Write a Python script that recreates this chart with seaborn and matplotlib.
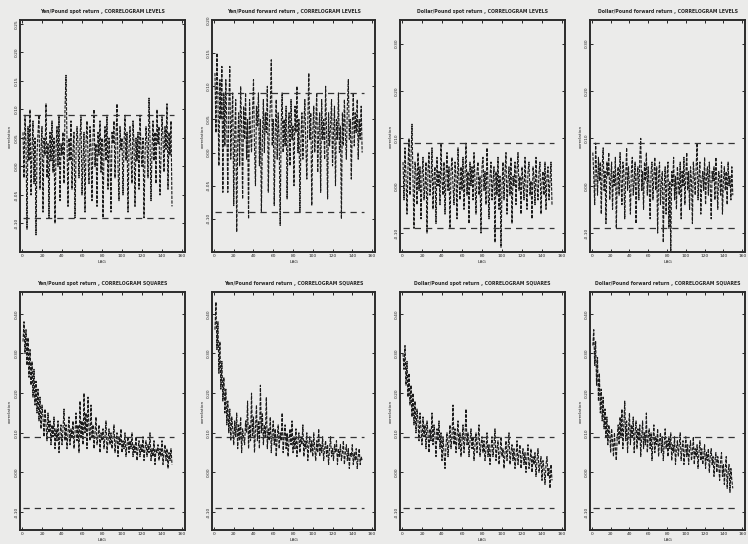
import numpy as np
import pandas as pd
import seaborn as sns
import matplotlib
matplotlib.use("Agg")
import matplotlib.pyplot as plt

# lags 1..150
lags = list(range(1, 151))

yen_spot_levels = [
    0.06, -0.02, 0.09, 0.04, -0.11, 0.07, 0.01, 0.10, -0.05, 0.03,
    0.08, -0.03, 0.05, -0.12, 0.02, 0.06, 0.09, -0.04, 0.03, 0.07,
    -0.08, 0.05, 0.02, 0.11, -0.02, 0.04, -0.09, 0.06, 0.01, 0.08,
    -0.01, 0.05, -0.10, 0.03, 0.07, 0.00, 0.09, -0.06, 0.04, 0.02,
    0.06, -0.03, 0.10, 0.16, 0.04, -0.07, 0.05, 0.01, 0.08, -0.04,
    0.03, 0.06, -0.09, 0.02, 0.07, 0.04, -0.02, 0.05, 0.09, -0.05,
    0.01, 0.06, -0.08, 0.04, 0.08, 0.02, -0.03, 0.07, 0.03, -0.06,
    0.05, 0.10, 0.00, 0.04, -0.07, 0.06, 0.02, 0.08, -0.01, 0.05,
    -0.09, 0.03, 0.07, 0.01, 0.09, -0.04, 0.05, 0.02, -0.08, 0.06,
    0.04, 0.08, -0.02, 0.05, 0.11, 0.00, -0.06, 0.07, 0.03, 0.05,
    -0.05, 0.04, 0.09, 0.01, 0.06, -0.08, 0.03, 0.07, 0.02, -0.03,
    0.08, 0.04, -0.07, 0.05, 0.01, 0.06, -0.04, 0.09, 0.03, 0.00,
    0.05, -0.09, 0.02, 0.07, 0.04, -0.02, 0.12, 0.05, -0.06, 0.03,
    0.08, 0.01, 0.06, -0.03, 0.10, 0.04, 0.07, -0.05, 0.02, 0.09,
    0.05, -0.01, 0.07, 0.03, 0.11, -0.04, 0.06, 0.02, 0.08, -0.07,
]

yen_fwd_levels = [
    0.12, 0.03, 0.15, 0.08, -0.02, 0.11, 0.05, 0.13, -0.06, 0.09,
    0.01, 0.11, 0.04, -0.06, 0.07, 0.13, -0.01, 0.05, 0.09, -0.08,
    0.03, 0.08, -0.12, 0.01, 0.06, -0.02, 0.10, 0.04, -0.07, 0.07,
    0.02, 0.09, -0.01, 0.05, -0.10, 0.08, 0.03, 0.00, 0.06, 0.11,
    0.01, -0.05, 0.07, 0.04, 0.09, -0.02, 0.05, -0.09, 0.02, 0.08,
    0.00, 0.06, 0.03, 0.10, -0.06, 0.04, 0.07, 0.14, 0.01, 0.05,
    -0.08, 0.03, 0.08, -0.01, 0.06, 0.02, -0.11, 0.04, 0.09, 0.00,
    0.05, 0.01, 0.07, -0.07, 0.03, 0.06, -0.02, 0.08, 0.02, 0.04,
    -0.05, 0.07, 0.03, 0.10, 0.00, 0.05, -0.09, 0.02, 0.06, -0.01,
    0.04, 0.08, 0.01, -0.04, 0.05, 0.12, 0.02, 0.06, -0.08, 0.03,
    0.07, 0.00, 0.04, 0.09, -0.03, 0.03, 0.06, -0.06, 0.08, 0.02,
    0.05, -0.01, 0.10, 0.03, -0.07, 0.06, 0.01, 0.04, 0.08, -0.02,
    0.03, 0.07, -0.05, 0.05, 0.02, 0.09, 0.00, 0.04, -0.10, 0.06,
    0.01, 0.08, 0.03, -0.01, 0.07, 0.11, 0.02, 0.05, -0.04, 0.04,
    0.09, 0.01, 0.06, 0.03, 0.08, -0.01, 0.05, 0.02, 0.07, 0.00,
]

usd_spot_levels = [
    0.05, -0.03, 0.08, 0.02, -0.06, 0.04, 0.10, -0.02, 0.06, 0.13,
    0.01, -0.09, 0.05, 0.03, -0.04, 0.07, -0.01, 0.04, -0.07, 0.02,
    0.06, -0.03, 0.00, 0.05, -0.10, 0.03, 0.07, -0.02, 0.01, 0.08,
    -0.05, 0.02, 0.04, -0.08, 0.06, 0.00, 0.03, -0.04, 0.09, 0.01,
    -0.02, 0.05, -0.06, 0.02, 0.07, -0.01, 0.04, -0.09, 0.03, 0.06,
    0.00, -0.04, 0.05, 0.02, -0.07, 0.08, 0.01, -0.03, 0.04, -0.01,
    0.06, -0.05, 0.02, 0.09, -0.02, 0.03, -0.08, 0.05, 0.00, 0.04,
    -0.03, 0.07, 0.01, -0.06, 0.03, 0.05, -0.02, 0.02, -0.10, 0.04,
    0.06, -0.01, 0.03, -0.04, 0.08, 0.00, -0.07, 0.02, 0.05, -0.03,
    0.01, 0.04, -0.12, 0.03, -0.02, 0.06, -0.05, 0.02, -0.13, 0.00,
    0.05, -0.03, 0.03, 0.07, -0.06, 0.01, 0.04, -0.02, 0.06, -0.08,
    0.02, 0.00, 0.05, -0.04, 0.03, 0.07, -0.01, 0.02, -0.06, 0.04,
    0.01, -0.03, 0.06, 0.00, -0.05, 0.03, 0.05, -0.02, 0.01, -0.07,
    0.04, 0.02, -0.04, 0.06, 0.00, -0.03, 0.03, 0.05, -0.06, 0.01,
    0.03, -0.02, 0.05, -0.05, 0.02, 0.04, -0.03, 0.01, 0.05, -0.04,
]

usd_fwd_levels = [
    0.07, 0.02, -0.04, 0.09, 0.03, -0.02, 0.06, 0.01, 0.05, -0.06,
    0.04, 0.08, -0.01, 0.03, -0.08, 0.05, 0.02, 0.07, -0.03, 0.01,
    0.05, -0.05, 0.03, 0.00, 0.06, -0.09, 0.02, 0.04, -0.02, 0.07,
    0.01, -0.04, 0.05, 0.03, -0.07, 0.02, 0.08, -0.01, 0.04, 0.00,
    -0.06, 0.03, 0.06, -0.02, 0.01, 0.05, -0.08, 0.02, 0.04, -0.03,
    0.06, 0.10, -0.01, 0.03, -0.05, 0.05, 0.01, 0.07, -0.02, 0.04,
    0.00, -0.07, 0.03, 0.05, -0.03, 0.02, 0.06, -0.01, 0.04, -0.10,
    0.02, 0.05, -0.04, 0.01, 0.03, -0.12, 0.00, 0.04, -0.06, 0.02,
    0.05, -0.09, 0.01, -0.14, 0.03, 0.00, 0.06, -0.03, 0.02, -0.05,
    0.04, 0.01, -0.02, 0.05, -0.07, 0.03, 0.00, 0.06, -0.04, 0.02,
    0.07, -0.01, 0.03, -0.05, 0.04, 0.01, -0.08, 0.05, 0.02, -0.02,
    0.04, 0.09, -0.03, 0.02, 0.05, -0.06, 0.01, 0.03, -0.01, 0.06,
    -0.04, 0.02, 0.04, -0.02, 0.05, 0.00, -0.07, 0.03, 0.01, 0.04,
    -0.03, 0.06, 0.01, -0.05, 0.03, 0.02, -0.02, 0.05, -0.06, 0.01,
    0.04, -0.01, 0.03, -0.04, 0.05, 0.00, 0.02, -0.03, 0.04, -0.02,
]

yen_spot_squares = [
    0.33, 0.38, 0.30, 0.36, 0.27, 0.34, 0.24, 0.31, 0.22, 0.28,
    0.19, 0.26, 0.17, 0.23, 0.15, 0.21, 0.13, 0.19, 0.11, 0.17,
    0.14, 0.09, 0.16, 0.12, 0.08, 0.15, 0.10, 0.13, 0.07, 0.12,
    0.09, 0.14, 0.06, 0.11, 0.08, 0.13, 0.05, 0.10, 0.12, 0.07,
    0.11, 0.16, 0.08, 0.12, 0.06, 0.10, 0.14, 0.07, 0.11, 0.09,
    0.13, 0.06, 0.10, 0.15, 0.08, 0.12, 0.05, 0.18, 0.09, 0.13,
    0.07, 0.20, 0.10, 0.15, 0.06, 0.19, 0.11, 0.08, 0.17, 0.09,
    0.12, 0.06, 0.10, 0.14, 0.07, 0.09, 0.12, 0.05, 0.10, 0.08,
    0.11, 0.06, 0.09, 0.13, 0.05, 0.08, 0.11, 0.07, 0.10, 0.06,
    0.09, 0.12, 0.05, 0.08, 0.10, 0.04, 0.09, 0.07, 0.11, 0.05,
    0.08, 0.06, 0.10, 0.04, 0.07, 0.09, 0.05, 0.08, 0.06, 0.10,
    0.04, 0.07, 0.05, 0.09, 0.03, 0.06, 0.08, 0.04, 0.07, 0.05,
    0.09, 0.03, 0.06, 0.08, 0.04, 0.07, 0.05, 0.10, 0.03, 0.06,
    0.04, 0.08, 0.02, 0.06, 0.05, 0.07, 0.03, 0.06, 0.04, 0.08,
    0.02, 0.05, 0.07, 0.03, 0.06, 0.01, 0.05, 0.03, 0.06, 0.02,
]

yen_fwd_squares = [
    0.36, 0.43, 0.31, 0.38, 0.25, 0.33, 0.21, 0.28, 0.18, 0.24,
    0.15, 0.21, 0.12, 0.18, 0.10, 0.16, 0.08, 0.14, 0.11, 0.07,
    0.13, 0.09, 0.15, 0.06, 0.12, 0.08, 0.14, 0.05, 0.11, 0.09,
    0.07, 0.13, 0.10, 0.18, 0.06, 0.12, 0.08, 0.20, 0.09, 0.14,
    0.05, 0.11, 0.17, 0.08, 0.13, 0.06, 0.22, 0.10, 0.15, 0.07,
    0.12, 0.09, 0.19, 0.06, 0.11, 0.08, 0.14, 0.05, 0.10, 0.13,
    0.07, 0.11, 0.04, 0.09, 0.12, 0.06, 0.10, 0.08, 0.15, 0.05,
    0.09, 0.12, 0.06, 0.10, 0.04, 0.08, 0.11, 0.07, 0.13, 0.05,
    0.09, 0.06, 0.11, 0.04, 0.08, 0.10, 0.05, 0.09, 0.07, 0.12,
    0.04, 0.08, 0.06, 0.10, 0.03, 0.07, 0.09, 0.05, 0.08, 0.04,
    0.10, 0.06, 0.03, 0.08, 0.05, 0.11, 0.04, 0.07, 0.05, 0.09,
    0.03, 0.06, 0.08, 0.04, 0.07, 0.02, 0.06, 0.09, 0.04, 0.06,
    0.03, 0.07, 0.05, 0.08, 0.02, 0.06, 0.04, 0.07, 0.03, 0.05,
    0.08, 0.02, 0.05, 0.07, 0.03, 0.06, 0.01, 0.05, 0.04, 0.07,
    0.02, 0.05, 0.03, 0.06, 0.01, 0.04, 0.06, 0.02, 0.04, 0.03,
]

usd_spot_squares = [
    0.30, 0.26, 0.32, 0.22, 0.28, 0.19, 0.25, 0.17, 0.22, 0.14,
    0.20, 0.12, 0.18, 0.10, 0.16, 0.13, 0.08, 0.15, 0.11, 0.07,
    0.14, 0.09, 0.12, 0.06, 0.13, 0.10, 0.05, 0.11, 0.08, 0.15,
    0.07, 0.12, 0.09, 0.04, 0.11, 0.08, 0.13, 0.06, 0.10, 0.03,
    0.09, 0.05, 0.01, 0.07, 0.10, 0.04, 0.08, 0.12, 0.06, 0.09,
    0.17, 0.07, 0.11, 0.05, 0.09, 0.13, 0.06, 0.10, 0.04, 0.08,
    0.12, 0.05, 0.09, 0.16, 0.07, 0.10, 0.04, 0.08, 0.11, 0.06,
    0.09, 0.03, 0.07, 0.10, 0.05, 0.08, 0.12, 0.04, 0.07, 0.09,
    0.05, 0.08, 0.03, 0.06, 0.10, 0.04, 0.07, 0.02, 0.06, 0.09,
    0.04, 0.07, 0.11, 0.03, 0.06, 0.08, 0.02, 0.05, 0.09, 0.04,
    0.06, 0.01, 0.05, 0.08, 0.03, 0.06, 0.10, 0.02, 0.05, 0.07,
    0.03, 0.06, 0.01, 0.04, 0.08, 0.02, 0.05, 0.07, 0.01, 0.04,
    0.06, 0.02, 0.05, 0.00, 0.04, 0.07, 0.01, 0.03, 0.06, 0.00,
    0.04, 0.02, 0.05, -0.01, 0.03, 0.06, 0.00, 0.02, 0.04, -0.02,
    0.03, 0.01, -0.03, 0.02, 0.04, -0.01, 0.01, -0.04, 0.02, -0.02,
]

usd_fwd_squares = [
    0.32, 0.36, 0.27, 0.33, 0.22, 0.29, 0.18, 0.25, 0.15, 0.21,
    0.13, 0.19, 0.11, 0.16, 0.09, 0.14, 0.07, 0.12, 0.10, 0.05,
    0.11, 0.08, 0.04, 0.10, 0.06, 0.03, 0.09, 0.12, 0.07, 0.14,
    0.09, 0.16, 0.06, 0.12, 0.18, 0.08, 0.13, 0.05, 0.11, 0.15,
    0.07, 0.12, 0.09, 0.14, 0.05, 0.10, 0.13, 0.06, 0.11, 0.08,
    0.12, 0.04, 0.09, 0.13, 0.06, 0.10, 0.07, 0.15, 0.05, 0.09,
    0.11, 0.06, 0.10, 0.03, 0.08, 0.12, 0.05, 0.09, 0.07, 0.11,
    0.04, 0.08, 0.10, 0.05, 0.09, 0.03, 0.07, 0.11, 0.06, 0.08,
    0.04, 0.09, 0.06, 0.10, 0.03, 0.07, 0.05, 0.09, 0.02, 0.06,
    0.08, 0.04, 0.07, 0.10, 0.03, 0.06, 0.08, 0.02, 0.05, 0.09,
    0.04, 0.07, 0.02, 0.06, 0.08, 0.03, 0.05, 0.09, 0.02, 0.06,
    0.04, 0.07, 0.01, 0.05, 0.08, 0.03, 0.06, 0.02, 0.04, 0.07,
    0.01, 0.05, 0.03, 0.06, 0.00, 0.04, 0.06, 0.02, 0.04, -0.01,
    0.03, 0.05, 0.00, 0.04, 0.02, -0.02, 0.03, 0.05, -0.01, 0.02,
    -0.03, 0.01, 0.04, -0.04, 0.00, 0.02, -0.05, 0.01, -0.02, -0.04,
]

titles = [
    "Yen/Pound spot return , CORRELOGRAM LEVELS",
    "Yen/Pound forward return , CORRELOGRAM LEVELS",
    "Dollar/Pound spot return , CORRELOGRAM LEVELS",
    "Dollar/Pound forward return , CORRELOGRAM LEVELS",
    "Yen/Pound spot return , CORRELOGRAM SQUARES",
    "Yen/Pound forward return , CORRELOGRAM SQUARES",
    "Dollar/Pound spot return , CORRELOGRAM SQUARES",
    "Dollar/Pound forward return , CORRELOGRAM SQUARES",
]
series = [yen_spot_levels, yen_fwd_levels, usd_spot_levels, usd_fwd_levels,
          yen_spot_squares, yen_fwd_squares, usd_spot_squares, usd_fwd_squares]

# two-standard-error band (+/-)
band = 0.09
x_ticks = [0, 20, 40, 60, 80, 100, 120, 140, 160]

# y scale per panel
y_limits = [(-0.15, 0.257), (-0.15, 0.2), (-0.14, 0.35), (-0.14, 0.35),
            (-0.145, 0.455), (-0.145, 0.455), (-0.145, 0.455), (-0.145, 0.455)]
y_steps = [0.05, 0.05, 0.1, 0.1, 0.1, 0.1, 0.1, 0.1]

sns.set_theme(style="ticks")
plt.rcParams['font.family'] = ['DejaVu Sans']
bg = "#ebebea"

fig = plt.figure(figsize=(7.48, 5.44), dpi=100, facecolor=bg)

lefts = [20, 212, 400, 590]
widths = [165, 163, 165, 155]
rows = [(20, 252), (292, 530)]

for i, vals in enumerate(series):
    r, c = divmod(i, 4)
    top, bot = rows[r]
    ax = fig.add_axes([lefts[c] / 748, 1 - bot / 544, widths[c] / 748, (bot - top) / 544])
    ax.set_facecolor(bg)
    df = pd.DataFrame({"lag": lags, "corr": vals})
    sns.lineplot(data=df, x="lag", y="corr", ax=ax, color="#1a1a1a",
                 linewidth=0.8, linestyle=(0, (3, 1.2)))
    ax.hlines([band, -band], 1, 152, colors="#333333", linewidth=0.9,
              linestyles=(0, (5, 4)))
    lo, hi = y_limits[i]
    ax.set_ylim(lo, hi)
    ax.set_xlim(-2, 163)
    step = y_steps[i]
    yt = np.round(np.arange(np.ceil(lo / step) * step, hi + 1e-9, step), 2)
    ax.set_yticks(yt)
    ax.set_yticklabels([f"{v:.2f}" for v in yt], fontsize=3.2, rotation=90, va="center")
    ax.set_xticks(x_ticks)
    ax.set_xticklabels([str(v) for v in x_ticks], fontsize=3.2)
    ax.tick_params(direction="in", length=2.5, width=0.7, top=True, right=True, pad=1.2)
    for s in ax.spines.values():
        s.set_linewidth(1.4)
        s.set_color("#2b2b2b")
    ax.set_title(titles[i], fontsize=3.3, fontweight="bold", pad=5)
    ax.set_xlabel("LAG", fontsize=3.2, labelpad=1.5)
    ax.set_ylabel("correlation", fontsize=3.2, labelpad=1.5)

fig.savefig("out.png", dpi=100, facecolor=bg)
